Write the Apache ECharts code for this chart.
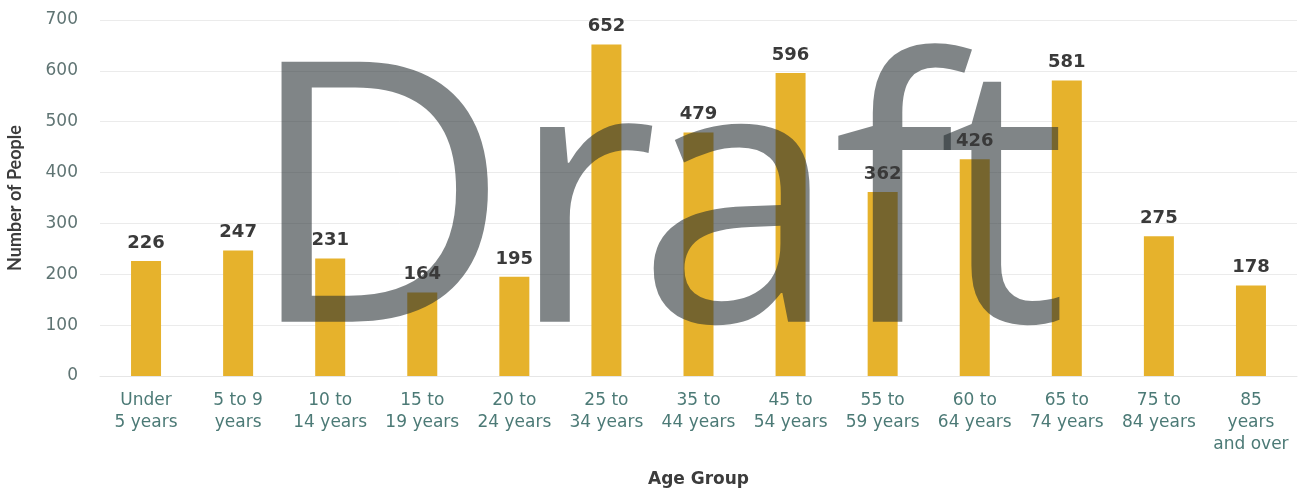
<!DOCTYPE html>
<html><head><meta charset="utf-8">
<script src="https://cdn.jsdelivr.net/npm/echarts@6/dist/echarts.min.js"></script>
<style>html,body{margin:0;padding:0;background:#fff}#c{width:1316px;height:489px}</style>
</head><body><div id="c"></div>
<script>
const categories = ["Under\n5 years","5 to 9\nyears","10 to\n14 years","15 to\n19 years","20 to\n24 years","25 to\n34 years","35 to\n44 years","45 to\n54 years","55 to\n59 years","60 to\n64 years","65 to\n74 years","75 to\n84 years","85\nyears\nand over"];
const people = [226, 247, 231, 164, 195, 652, 479, 596, 362, 426, 581, 275, 178];
const yTicks = [0, 100, 200, 300, 400, 500, 600, 700];
const watermark = [['D', 246], ['r', 509], ['a', 637], ['f', 833], ['t', 938]];
const chart = echarts.init(document.getElementById('c'));
const wmStyle = {fontFamily: 'Open Sans', fontSize: 364, fill: '#242d30', opacity: 0.58};
chart.setOption({
  animation: false,
  grid: {left: 100, right: 19, top: 20, bottom: 113, outerBoundsMode: 'none'},
  xAxis: {
    type: 'category', data: categories,
    name: 'Age Group', nameLocation: 'middle', nameGap: 95,
    nameTextStyle: {fontFamily: 'DejaVu Sans', fontWeight: 'bold', fontSize: 17, color: '#3c3c3c'},
    axisLine: {show: true, lineStyle: {color: '#e6e6e6'}}, axisTick: {show: false},
    axisLabel: {fontFamily: 'DejaVu Sans', fontSize: 17, color: '#4c7a76', lineHeight: 22, margin: 14, interval: 0}
  },
  yAxis: {
    type: 'value', min: 0, max: 700, interval: 100,
    name: 'Number of People', nameLocation: 'middle', nameGap: 76,
    nameTextStyle: {fontFamily: 'Lato', fontWeight: 'bold', fontSize: 18, color: '#3c3c3c'},
    axisLabel: {fontFamily: 'DejaVu Sans', fontSize: 17, color: '#5f7473', margin: 22,
      formatter: v => yTicks.includes(v) ? String(v) : ''},
    splitLine: {lineStyle: {color: '#ebebeb'}}
  },
  series: [{
    type: 'bar', data: people, barWidth: 30, z: 2,
    itemStyle: {color: '#E6B22C'}
  }, {
    type: 'bar', data: people, barWidth: 30, barGap: '-100%', z: 10, silent: true,
    itemStyle: {color: 'rgba(0,0,0,0)'},
    label: {show: true, position: 'top', distance: 9, fontFamily: 'DejaVu Sans', fontWeight: 'bold', fontSize: 18, color: '#3a3a3a'}
  }],
  graphic: watermark.map(([ch, x]) => ({
    type: 'text', z: 5, left: x, top: 36,
    style: Object.assign({text: ch}, wmStyle)
  }))
});
</script></body></html>
